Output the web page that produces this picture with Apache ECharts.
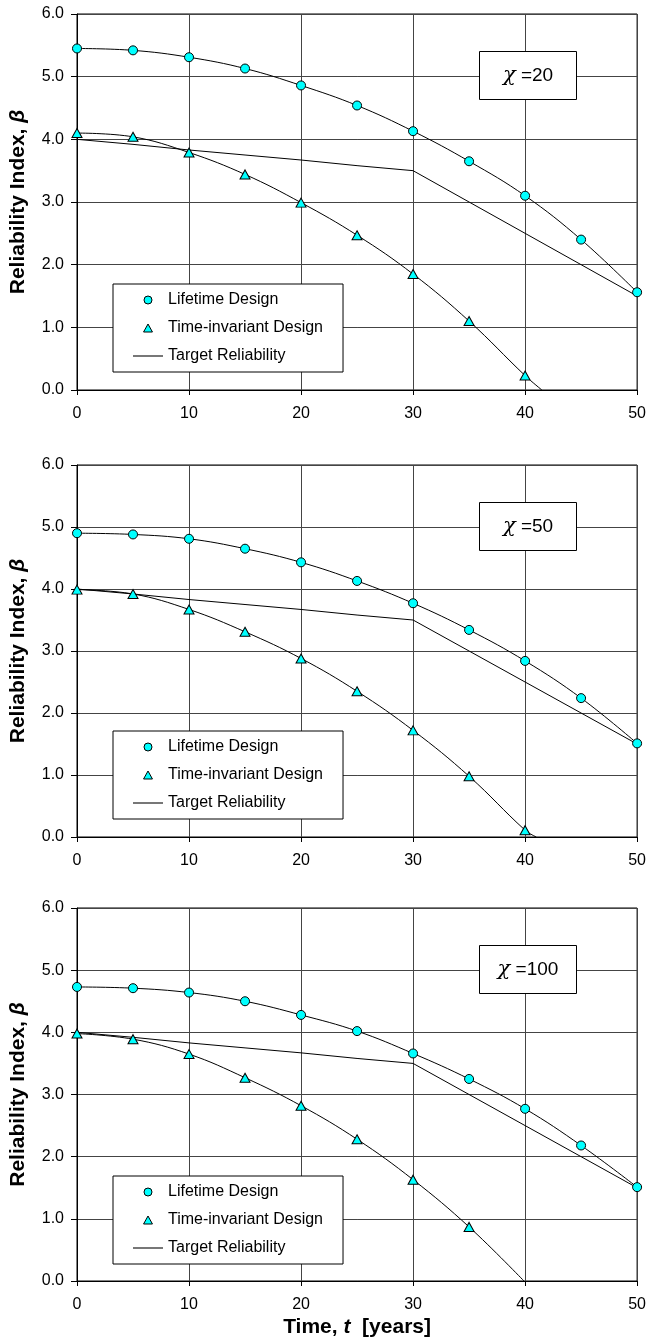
<!DOCTYPE html>
<html>
<head>
<meta charset="utf-8">
<title>Reliability Index</title>
<script src="https://cdn.jsdelivr.net/npm/echarts@6/dist/echarts.min.js"></script>
<style>
    html, body { margin: 0; padding: 0; background: #fff; }
    #div_chart { width: 649px; height: 1339px; }
</style>
</head>
<body>
<div id="div_chart"></div>
<script>
// 时间轴（年）
const years = [0, 5, 10, 15, 20, 25, 30, 35, 40, 45, 50];
// 目标可靠度
const targetReliability = [4.0, 3.92, 3.83, 3.75, 3.67, 3.58, 3.5, 3.0, 2.5, 2.0, 1.5];

// χ = 20
const lifetime20 = [5.45, 5.42, 5.31, 5.13, 4.86, 4.54, 4.13, 3.65, 3.10, 2.40, 1.56];
const invariant20 = [4.10, 4.04, 3.79, 3.44, 2.99, 2.47, 1.85, 1.10, 0.23];
const invariantEnd20 = [41.5, 0];

// χ = 50
const lifetime50 = [4.90, 4.88, 4.81, 4.65, 4.43, 4.13, 3.77, 3.34, 2.84, 2.24, 1.51];
const invariant50 = [3.99, 3.92, 3.67, 3.31, 2.88, 2.35, 1.72, 0.98, 0.11];
const invariantEnd50 = [41.0, 0];

// χ = 100
const lifetime100 = [4.73, 4.71, 4.64, 4.50, 4.28, 4.02, 3.66, 3.25, 2.77, 2.18, 1.51];
const invariant100 = [3.98, 3.89, 3.65, 3.27, 2.82, 2.28, 1.63, 0.87];
const invariantEnd100 = [39.9, 0];

const chiValues = [20, 50, 100];
const lifetimeList = [lifetime20, lifetime50, lifetime100];
const invariantList = [invariant20, invariant50, invariant100];
const invariantEndList = [invariantEnd20, invariantEnd50, invariantEnd100];

const xTicks = {min: 0, max: 50, interval: 10};
const yTicks = {min: 0, max: 6, interval: 1};

const FONT = "'Liberation Sans', Arial, sans-serif";
const CYAN = '#00ffff';

// 三个子图的位置
const panels = [
    {top: 14, height: 376},
    {top: 465, height: 372},
    {top: 908, height: 374}
];

/**
 * 生成配置
 */
const buildOption = function () {
    const grid = [];
    const xAxis = [];
    const yAxis = [];
    const series = [];
    const legend = [];
    const graphic = [];

    panels.forEach(function (p, i) {
        grid.push({
            left: 75,
            right: 9,
            top: p.top,
            height: p.height,
            show: true,
            borderColor: '#000',
            borderWidth: 1,
            backgroundColor: 'transparent'
        });

        xAxis.push({
            type: 'value',
            gridIndex: i,
            min: xTicks.min,
            max: xTicks.max,
            interval: xTicks.interval,
            axisLine: {onZero: false, lineStyle: {color: '#000', width: 1}},
            axisTick: {show: true, length: 5, inside: false, lineStyle: {color: '#000'}},
            axisLabel: {color: '#000', fontFamily: FONT, fontSize: 16, margin: 16},
            splitLine: {show: true, lineStyle: {color: '#444', width: 1}},
            name: i === 2 ? '{a|Time, }{b|t}{a|  [years]}' : '',
            nameLocation: 'middle',
            nameGap: 36,
            nameTextStyle: {
                rich: {
                    a: {fontFamily: FONT, fontSize: 21, fontWeight: 'bold', color: '#000'},
                    b: {fontFamily: FONT, fontSize: 21, fontWeight: 'bold', fontStyle: 'italic', color: '#000'}
                }
            }
        });

        yAxis.push({
            type: 'value',
            gridIndex: i,
            min: yTicks.min,
            max: yTicks.max,
            interval: yTicks.interval,
            axisLine: {onZero: false, lineStyle: {color: '#000', width: 1}},
            axisTick: {show: true, length: 6, inside: false, lineStyle: {color: '#000'}},
            axisLabel: {
                color: '#000', fontFamily: FONT, fontSize: 16, margin: 13,
                formatter: function (v) {
                    return v.toFixed(1);
                }
            },
            splitLine: {show: true, lineStyle: {color: '#444', width: 1}},
            name: '{a|Reliability Index, }{b|β}',
            nameLocation: 'middle',
            nameGap: 48,
            nameTextStyle: {
                rich: {
                    a: {fontFamily: FONT, fontSize: 21, fontWeight: 'bold', color: '#000'},
                    b: {fontFamily: FONT, fontSize: 21, fontWeight: 'bold', fontStyle: 'italic', color: '#000'}
                }
            }
        });

        // 目标可靠度
        series.push({
            name: 'Target Reliability',
            type: 'line',
            xAxisIndex: i,
            yAxisIndex: i,
            showSymbol: false,
            symbol: 'none',
            itemStyle: {color: '#000'},
            lineStyle: {color: '#000', width: 1},
            data: years.map(function (t, k) {
                return [t, targetReliability[k]];
            }),
            z: 3
        });

        // 时不变设计
        const invData = invariantList[i].map(function (v, k) {
            return [years[k], v];
        });
        invData.push({value: invariantEndList[i], symbol: 'none'});
        series.push({
            name: 'Time-invariant Design',
            type: 'line',
            xAxisIndex: i,
            yAxisIndex: i,
            smooth: 0.4,
            symbol: 'triangle',
            symbolSize: [10, 9],
            showAllSymbol: true,
            itemStyle: {color: CYAN, borderColor: '#000', borderWidth: 1},
            lineStyle: {color: '#000', width: 1},
            data: invData,
            z: 4
        });

        // 全寿命设计
        series.push({
            name: 'Lifetime Design',
            type: 'line',
            xAxisIndex: i,
            yAxisIndex: i,
            smooth: 0.4,
            symbol: 'circle',
            symbolSize: 9,
            showAllSymbol: true,
            itemStyle: {color: CYAN, borderColor: '#000', borderWidth: 1},
            lineStyle: {color: '#000', width: 1},
            data: years.map(function (t, k) {
                return [t, lifetimeList[i][k]];
            }),
            z: 5
        });

        // 图例
        legend.push({
            orient: 'vertical',
            left: 113,
            top: p.top + p.height - 18 - 88,
            backgroundColor: '#fff',
            borderColor: '#000',
            borderWidth: 1,
            padding: [8, 20, 8, 20],
            itemWidth: 30,
            itemHeight: 8,
            itemGap: 12,
            selectedMode: false,
            textStyle: {fontFamily: FONT, fontSize: 16, color: '#000', lineHeight: 16},
            data: [
                {name: 'Lifetime Design', icon: 'circle', itemStyle: {color: CYAN, borderColor: '#000', borderWidth: 1}},
                {name: 'Time-invariant Design', icon: 'path://M5,0L10,9L0,9Z', itemStyle: {color: CYAN, borderColor: '#000', borderWidth: 1}},
                {name: 'Target Reliability', icon: 'path://M0,0L28,0L28,1L0,1Z', itemStyle: {color: '#000', borderWidth: 0}}
            ]
        });

        // χ 标注框
        graphic.push({
            type: 'group',
            left: 479,
            top: p.top + 37,
            children: [
                {
                    type: 'rect',
                    shape: {x: 0, y: 0, width: 97, height: 48},
                    style: {fill: '#fff', stroke: '#000', lineWidth: 1},
                    z: 10
                },
                {
                    type: 'text',
                    x: 48.5,
                    y: 24,
                    z: 11,
                    style: {
                        text: '{c|χ}{d| =' + chiValues[i] + '}',
                        align: 'center',
                        verticalAlign: 'middle',
                        rich: {
                            c: {fontFamily: "'DejaVu Serif', serif", fontStyle: 'italic', fontSize: 21, fill: '#000'},
                            d: {fontFamily: FONT, fontSize: 19, fill: '#000'}
                        }
                    }
                }
            ]
        });
    });

    return {
        backgroundColor: '#fff',
        animation: false,
        grid: grid,
        xAxis: xAxis,
        yAxis: yAxis,
        legend: legend,
        graphic: graphic,
        series: series
    };
}

/**
 * 初始化图表
 */
const initChart = function () {
    const div_chart = echarts.init(document.getElementById('div_chart'));
    div_chart.setOption(buildOption());
}

initChart();
</script>
</body>
</html>
